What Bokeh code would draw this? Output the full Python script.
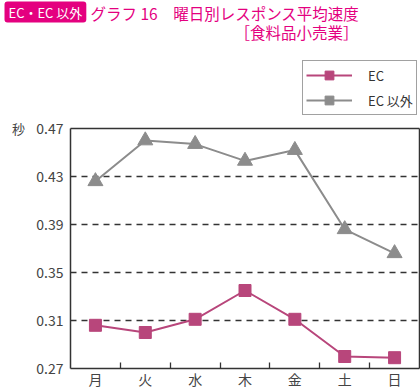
from bokeh.plotting import figure
from bokeh.models import (FixedTicker, Label, Legend, LegendItem, Range1d,
                          NumeralTickFormatter, LinearAxis, Grid)
from bokeh.embed import file_html
from bokeh.resources import INLINE

days = ["月", "火", "水", "木", "金", "土", "日"]
ec = [0.306, 0.300, 0.311, 0.335, 0.311, 0.280, 0.279]
ec_other = [0.426, 0.460, 0.457, 0.443, 0.452, 0.386, 0.366]
y_ticks = [0.27, 0.31, 0.35, 0.39, 0.43, 0.47]
grid_ticks = [0.31, 0.35, 0.39, 0.43]

FONT = "Noto Sans CJK JP"
PINK = "#b8467b"
GRAY = "#8c8c8c"
MAGENTA = "#e4007f"
DARK = "#333333"

W, H = 420, 387
FL, FR, FT, FB = 70, 419, 128, 368          # plot box in canvas pixels
ymin, ymax = 0.27, 0.47
n = len(days)
xpx = (FR - FL) / n
ypx = (FB - FT) / (ymax - ymin)

x = [i + 0.5 for i in range(n)]
bounds = [i for i in range(1, n)]

p = figure(frame_width=W, frame_height=H,
           x_range=Range1d(-FL / xpx, n + (W - FR) / xpx),
           y_range=Range1d(ymin - (H - FB) / ypx, ymax + FT / ypx),
           output_backend="svg", toolbar_location=None,
           min_border=0, x_axis_type=None, y_axis_type=None,
           background_fill_color="white", border_fill_color="white")
p.outline_line_color = None
p.xgrid.visible = False
p.ygrid.visible = False


def style(ax):
    ax.axis_line_color = DARK
    ax.axis_line_width = 1.5
    ax.major_label_text_font = FONT
    ax.major_label_text_font_size = "14px"
    ax.major_label_text_color = "#444444"


xaxis = LinearAxis(fixed_location=ymin, bounds=(0, n),
                   ticker=FixedTicker(ticks=x, minor_ticks=bounds),
                   major_label_overrides={xv: d for xv, d in zip(x, days)},
                   major_tick_in=0, major_tick_out=0, minor_tick_in=6, minor_tick_out=0,
                   minor_tick_line_color=DARK, minor_tick_line_width=1.3,
                   major_label_standoff=0)
style(xaxis)
p.add_layout(xaxis, "below")

yaxis = LinearAxis(fixed_location=0, bounds=(ymin, ymax),
                   ticker=FixedTicker(ticks=y_ticks),
                   formatter=NumeralTickFormatter(format="0.00"),
                   major_tick_in=0, major_tick_out=0, minor_tick_line_color=None,
                   major_label_standoff=7)
style(yaxis)
p.add_layout(yaxis, "left")

raxis = LinearAxis(fixed_location=n, bounds=(ymin, ymax), ticker=FixedTicker(ticks=[]),
                   major_tick_line_color=None, minor_tick_line_color=None)
style(raxis)
raxis.major_label_text_font_size = "0px"
p.add_layout(raxis, "right")

taxis = LinearAxis(fixed_location=ymax, bounds=(0, n), ticker=FixedTicker(ticks=[]),
                   major_tick_line_color=None, minor_tick_line_color=None)
style(taxis)
taxis.major_label_text_font_size = "0px"
p.add_layout(taxis, "above")

grid = Grid(dimension=1, ticker=FixedTicker(ticks=grid_ticks), cross_bounds=(0, n),
            grid_line_color=DARK, grid_line_width=1.3, grid_line_dash="6 5")
p.add_layout(grid)

# series
g_line = p.line(x, ec_other, line_color=GRAY, line_width=2)
# tiny squares hidden under the triangles: used only for the legend swatch
g_leg = p.scatter(x, ec_other, marker="square", size=1, fill_color=GRAY, line_color=GRAY)
g_pts = p.scatter(x, ec_other, marker="triangle", size=15, fill_color=GRAY, line_color=GRAY)
e_line = p.line(x, ec, line_color=PINK, line_width=2)
e_pts = p.scatter(x, ec, marker="square", size=12, fill_color=PINK, line_color=PINK)

legend = Legend(items=[LegendItem(label="EC", renderers=[e_line, e_pts]),
                       LegendItem(label="EC 以外", renderers=[g_line, g_leg])],
                location=(302, H - 115), border_line_color="#444444", border_line_width=1.3,
                label_text_font=FONT, label_text_font_size="13px", label_text_color="#333333",
                glyph_width=46, glyph_height=22, label_height=19, label_standoff=16,
                padding=3, spacing=3,
                margin=0, background_fill_color="white", background_fill_alpha=1)
p.add_layout(legend)

# texts (screen units: from canvas left, and from canvas bottom)
p.add_layout(Label(x=4, y=H - 1, x_units="screen", y_units="screen", text="EC・EC 以外",
                   text_color="white", text_font=FONT, text_font_size="13px",
                   text_baseline="top", background_fill_color=MAGENTA, padding=(4, 1),
                   border_radius=3))
p.add_layout(Label(x=90, y=H - 1, x_units="screen", y_units="screen",
                   text="グラフ 16　曜日別レスポンス平均速度",
                   text_color=MAGENTA, text_font=FONT, text_font_size="15.5px",
                   text_baseline="top"))
p.add_layout(Label(x=358, y=H - 20, x_units="screen", y_units="screen",
                   text="［食料品小売業］",
                   text_color=MAGENTA, text_font=FONT, text_font_size="15.5px",
                   text_baseline="top", text_align="right"))
p.add_layout(Label(x=18, y=H - FT, x_units="screen", y_units="screen", text="秒",
                   text_color="#444444", text_font=FONT, text_font_size="13px",
                   text_baseline="middle", text_align="center"))

open("out.html", "w").write(file_html(p, INLINE))
